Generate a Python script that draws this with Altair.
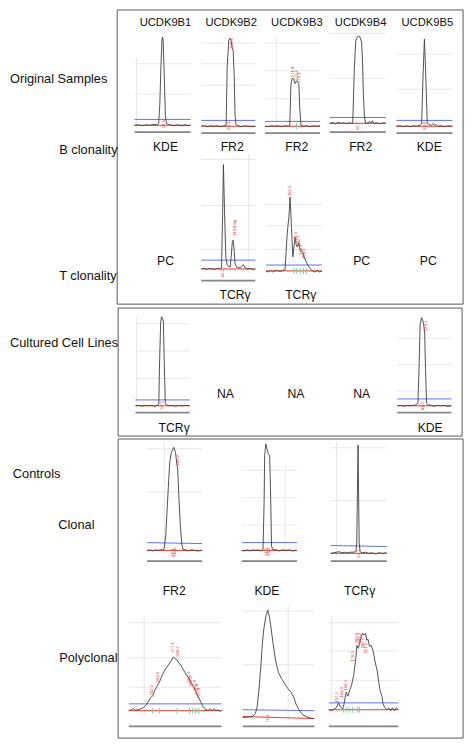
import altair as alt
import pandas as pd

# ---------------- text content ----------------
row_labels = ["Original Samples", "B clonality", "T clonality",
              "Cultured Cell Lines", "Controls", "Clonal", "Polyclonal"]
sample_names = ["UCDK9B1", "UCDK9B2", "UCDK9B3", "UCDK9B4", "UCDK9B5"]
b_targets = ["KDE", "FR2", "FR2", "FR2", "KDE"]
t_targets = ["PC", "TCRγ", "TCRγ", "PC", "PC"]
cell_line_targets = ["TCRγ", "NA", "NA", "NA", "KDE"]
polyclonal_targets = ["FR2", "KDE", "TCRγ"]

# ---------------- electropherogram traces ----------------
# (size position in % of panel width, signal in % of full scale)
trace_B1 = [(0,0),(7,0.5),(14,-0.5),(21,0.5),(28,0),(35,1),(40,0.5),(43,2),(45,22),(47,65),(49,96),(50,98),
            (51,95),(53,54),(55,11),(57,2),(60,1),(64,0.5),(69,-0.5),(76,0.5),(83,-0.5),(90,0.5),(95,-0.5),(100,0)]
trace_B2 = [(0,0),(6,0.5),(12,-0.5),(18,0.5),(24,0),(30,0.5),(36,-0.5),(42,0.5),(46,1),(48,66),(51,95),(53,97),
            (55,95),(57,87),(59,83),(61,55),(62.5,12),(64,2),(68,0.5),(74,-0.5),(80,0.5),(86,0),(92,-0.5),(100,0)]
trace_B3 = [(0,0),(6,-0.5),(12,0.5),(18,0),(24,0.5),(30,-0.5),(36,0.5),(42,0),(45,1),(47,45),(48.5,51),(50,53),
            (52,52),(54.5,47),(57.5,50),(60,48),(61.5,46),(63,20),(65.5,1),(70,0),(76,0.5),(82,-0.5),(88,0.5),
            (94,0),(100,0.5)]
trace_B4 = [(0,0),(5,1),(10,-0.5),(15,1),(20,0),(25,0.5),(30,-0.5),(35,0.5),(41,0),(44,64),(46.5,94),(49,98),
            (52,99),(54,98),(57,92),(58.5,70),(60,34),(62,7),(64,0),(68,0.5),(72,2),(74,0.5),(76,3),(78,0),
            (84,0.5),(90,-0.5),(95,0.5),(100,0)]
trace_B5 = [(0,0),(6,0.5),(12,-0.5),(18,0.5),(24,-0.5),(30,0.5),(36,0),(42,1),(45,3),(47.5,55),(50,96),
            (52.5,55),(55,3),(58,2),(62,1),(65.5,3),(68,1),(71,2),(74,0),(80,0.5),(86,-0.5),(92,0.5),(100,0)]
trace_TB2 = [(0,0),(5,0.5),(10,-0.5),(15,0.5),(20,0),(25,-0.5),(30,0.5),(35,0),(37.5,1),(39.5,50),(41,98),
             (43,55),(45.5,10),(48,4),(51,2),(53.5,2),(55.5,12),(57.5,26),(59,27),(60.5,20),(62.5,5),(65,2),
             (70,1),(74,2),(78,4),(81,1),(85,0),(90,0.5),(95,-0.5),(100,0)]
trace_TB3 = [(0,0),(4,-1),(8,0.5),(12,-1),(16,0),(20,0.5),(25,-0.5),(30,0.5),(34,1),(38,35),(41,50),(43,68),
             (45.5,40),(48,13),(50,22),(52,31),(54,24),(56,22),(58.5,26),(60.5,20),(62.5,19),(65.5,17),(68,13),
             (71,9),(75,5),(79,2),(83,0),(87,-1),(91,0.5),(95,-1),(100,0)]
trace_CL1 = [(0,0),(6,0.5),(12,-0.5),(18,0.5),(24,0),(30,0.5),(36,-0.5),(41,0.5),(43,2),(44.5,50),(46.5,92),
             (48,98),(50,96),(51.5,92),(53,50),(55,3),(57,1),(62,0),(68,0.5),(74,-0.5),(80,0.5),(86,0),
             (92,0.5),(100,0)]
trace_CL5 = [(0,0),(6,0.5),(12,-0.5),(18,0.5),(24,0),(30,0.5),(35,1),(38,3),(40,40),(42,88),(44.5,97),
             (46.5,95),(48.5,90),(50.5,80),(52,40),(54,3),(57,1),(62,0.5),(68,-0.5),(74,0.5),(80,0),(86,0.5),
             (92,-0.5),(100,0)]
trace_C1 = [(0,0),(5,0.5),(10,-0.5),(15,0.5),(20,0),(25,0.5),(30,1),(31,2),(34,15),(37,45),(41,82),(44,91),
            (48.5,96),(51.5,91),(53,85),(55.5,75),(57.5,52),(60,25),(63,6),(65,1),(70,0.5),(75,-0.5),
            (80,0.5),(86,0),(92,-0.5),(100,0)]
trace_C2 = [(0,0),(5,-0.5),(10,0.5),(15,-0.5),(20,0.5),(25,0),(30,0.5),(35,-0.5),(38.5,1),(40.5,45),(41.5,88),
            (43.5,99),(45,96),(48,90),(50.5,88),(52,60),(54,4),(56,1),(62,0.5),(68,-0.5),(74,0.5),(80,0),
            (86,0.5),(92,-0.5),(100,0)]
trace_C3 = [(0,0),(5,0.5),(10,1),(15,1.5),(20,0.5),(25,1),(30,0.5),(35,1),(40,1),(45,1.5),(46.5,10),(48.8,98),
            (50.8,10),(52.5,1.5),(56,0.5),(62,1),(68,0),(74,0.5),(80,-0.5),(86,0.5),(92,0),(100,0.5)]
trace_P1 = [(0,0),(3,1),(5,2),(7,0.5),(10,1),(13,2),(16,3),(19,6),(21,9),(23,12),(26,15),(28,20),(31,25),
            (33,28),(36,35),(39,40),(42,44),(45,48),(48,53),(50,51),(52,50),(54,47),(56,45),(59,40),(61,37),
            (63,34),(65,32),(67,28),(70,23),(72,19),(75,13),(77,10),(80,4),(83,1),(86,0.5),(88,2),(90,0),
            (92,2),(94,0),(96,1),(98,-0.5),(100,0)]
trace_P2 = [(0,-0.5),(7,0),(13.5,0.5),(17.5,3),(20,9),(23,28),(25.5,49),(27.5,69),(29.5,82),(32.5,94),
            (35,99),(37.5,92),(39,85),(42,70),(44.5,58),(47,49),(50,41),(54,36),(59.5,30),(63.5,26),(67.5,23),
            (71.5,18),(74.5,12),(78.5,7),(84,2),(90.5,0),(95,-1),(100,-1.5)]
trace_P3 = [(0,0),(4,-1),(8,1),(11,2),(14,7),(16.5,3),(20.5,1),(22,6),(25,17.5),(27.5,13.5),(30.5,20),
            (33,25),(36,35),(39,52),(40.5,64),(42,61),(43,62),(46,71),(48.5,76),(51,74),(53,76),(54.5,69),
            (56.5,70),(58.5,63),(61,64),(64,58),(66.5,48),(69.5,39),(72,27),(73.5,20),(76.5,13),(78,6),
            (80.5,2),(83.5,0),(86,2),(89,-1),(91.5,2),(94.5,-1),(97,2),(100,0)]

# peak size annotations (x %, bottom of label in % of full scale, text)
peak_labels = {
    "B1": [(51.7, -3, "94.1")],
    "B2": [(57, 85, "265.3"), (52, -4, "98.1")],
    "B3": [(51, 54, "271.8"), (58, 50, "274.4"), (61.5, 48, "276.1")],
    "B4": [(50, -8, "92.7")],
    "B5": [(51.7, -4, "96.0")],
    "TB2": [(62.5, 31, "113.8 bp"), (41, -8, "84.2")],
    "TB3": [(43, 69, "162.5"), (54, 26, "180.3"), (58.5, 23, "182.7"), (63, 15, "186.1"), (67, 11, "188.9")],
    "CL1": [(48, -4, "92.5")],
    "CL5": [(52, 82, "223.4"), (46.5, -5, "81.0")],
    "C1": [(55.5, 79, "266.2"), (47.5, -6, "90.8"), (50.5, -6, "91.6")],
    "C2": [(45.5, -5, "91.0"), (49, -5, "93.2")],
    "C3": [(50, -4, "94.7")],
    "P1": [(25, 15, "262.4"), (32, 28, "266.9"), (48, 57, "277.1"), (53, 53, "280.2"), (64.5, 28, "286.4"),
           (67.5, 24, "289.2"), (71, 20, "292.0"), (74, 16, "294.8"), (76, 12, "297.3")],
    "P2": [(35, -5, "71.4")],
    "P3": [(12.5, 7, "157.2"), (19, 12, "163.0"), (25, 19, "169.4"), (34.5, 48, "178.1"), (40.5, 66, "183.6"),
           (44.5, 66, "186.2"), (48.5, 61, "189.1"), (53, 56, "191.9")],
}
# bin markers on the baseline (x %)
bin_marks = {
    "B3": [57],
    "TB3": [50, 55, 62, 67, 72],
    "C1": [51],
    "P1": [26, 33, 52, 65.5, 69, 72, 75],
    "P3": [21, 25, 29, 34.5, 41.5, 44],
}

traces = {"B1": trace_B1, "B2": trace_B2, "B3": trace_B3, "B4": trace_B4, "B5": trace_B5,
          "TB2": trace_TB2, "TB3": trace_TB3, "CL1": trace_CL1, "CL5": trace_CL5,
          "C1": trace_C1, "C2": trace_C2, "C3": trace_C3, "P1": trace_P1, "P2": trace_P2, "P3": trace_P3}

# ---------------- layout (figure coordinates) ----------------
FIG_W, FIG_H = 473, 750
panel_layout = {
    "B1": dict(x0=131, x1=189, base=120, top=28, blue=(114, 114), red=(120, 120), gray=127, hgrid=[57, 88], vgrid=[133]),
    "B2": dict(x0=200, x1=256, base=121, top=28, blue=(115, 115), red=(121, 121), gray=128, hgrid=[36, 57, 79], vgrid=[]),
    "B3": dict(x0=266, x1=323, base=121, top=28, blue=(116, 116), red=(121, 121), gray=128, hgrid=[36, 64, 93], vgrid=[278]),
    "B4": dict(x0=333, x1=391, base=118, top=28, blue=(112, 112), red=(118, 118), gray=127, hgrid=[26, 72], vgrid=[]),
    "B5": dict(x0=402, x1=460, base=121, top=28, blue=(115, 115), red=(121, 121), gray=128, hgrid=[47, 83], vgrid=[]),
    "TB2": dict(x0=200, x1=256, base=267, top=158, blue=(258, 258), red=(267, 267), gray=279, hgrid=[155, 202, 247], vgrid=[249]),
    "TB3": dict(x0=267, x1=325, base=269, top=158, blue=(263, 263), red=(269, 269), gray=None, hgrid=[201, 223, 247], vgrid=[]),
    "CL1": dict(x0=132, x1=188, base=407, top=314, blue=(401, 401), red=(407, 407), gray=414, hgrid=[323, 351, 379], vgrid=[133]),
    "CL5": dict(x0=403, x1=459, base=407, top=314, blue=(400, 400), red=(407, 407), gray=414, hgrid=[338, 365, 392], vgrid=[]),
    "C1": dict(x0=144, x1=201, base=555, top=445, blue=(547, 548), red=(555, 555), gray=566, hgrid=[451, 495], vgrid=[162]),
    "C2": dict(x0=242, x1=299, base=555, top=445, blue=(547, 547), red=(555, 555), gray=566, hgrid=[473, 501, 529], vgrid=[287]),
    "C3": dict(x0=334, x1=392, base=558, top=445, blue=(550, 551), red=(558, 558), gray=566, hgrid=[450, 504], vgrid=[340]),
    "P1": dict(x0=125, x1=221, base=719, top=615, blue=(712, 712), red=(719, 719), gray=735, hgrid=[629, 665, 695], vgrid=[141]),
    "P2": dict(x0=243, x1=317, base=725.5, top=615, blue=(718, 719), red=(725, 727), gray=735, hgrid=[617, 672], vgrid=[290]),
    "P3": dict(x0=332, x1=404, base=718, top=615, blue=(711, 711), red=(718, 718), gray=735, hgrid=[629, 658, 688], vgrid=[335]),
}
boxes = [(113, 2, 471, 303), (114, 307, 470, 438), (114, 441, 471, 747)]

row_label_pos = [(2, 73), (53, 145), (53, 274), (2, 343), (5, 477), (52, 529), (53, 665)]
col_x = [163, 231, 299, 365, 434]


def px(p, xp):
    L = panel_layout[p]
    return L["x0"] + xp / 100.0 * (L["x1"] - L["x0"])


def py(p, h):
    L = panel_layout[p]
    return L["base"] - h / 100.0 * (L["base"] - L["top"])


# ---------------- build tables ----------------
trace_rows = []
for p, pts in traces.items():
    for i, (xp, h) in enumerate(pts):
        trace_rows.append(dict(panel=p, i=i, x=px(p, xp), y=py(p, h)))
trace_df = pd.DataFrame(trace_rows)

grid_rows, axis_rows, blue_rows, red_rows = [], [], [], []
for p, L in panel_layout.items():
    for g in L["hgrid"]:
        grid_rows.append(dict(x=L["x0"], x2=L["x1"], y=g, y2=g))
    for v in L["vgrid"]:
        grid_rows.append(dict(x=v, x2=v, y=min(L["hgrid"]) - 6, y2=L["base"] + 4))
    if L["gray"] is not None:
        axis_rows.append(dict(x=L["x0"], x2=L["x1"], y=L["gray"], y2=L["gray"]))
    blue_rows.append(dict(x=L["x0"], x2=L["x1"], y=L["blue"][0], y2=L["blue"][1]))
    red_rows.append(dict(x=L["x0"], x2=L["x1"], y=L["red"][0], y2=L["red"][1]))
grid_df = pd.DataFrame(grid_rows)
axis_df = pd.DataFrame(axis_rows)
blue_df = pd.DataFrame(blue_rows)
red_df = pd.DataFrame(red_rows)

green_rows = []
for p, xs_ in bin_marks.items():
    L = panel_layout[p]
    for xp in xs_:
        green_rows.append(dict(x=px(p, xp), y=L["red"][0] - 3, y2=L["red"][0] + 3))
green_df = pd.DataFrame(green_rows)

plab_rows = []
for p, labs in peak_labels.items():
    for xp, h, t in labs:
        plab_rows.append(dict(x=px(p, xp), y=py(p, h), t=t))
plab_df = pd.DataFrame(plab_rows)

box_df = pd.DataFrame([dict(x=a, y=b, x2=c, y2=d) for a, b, c, d in boxes])

left_df = pd.DataFrame([dict(x=x, y=y, t=t) for t, (x, y) in zip(row_labels, row_label_pos)])

center_rows = []
for t, x in zip(sample_names, col_x):
    center_rows.append(dict(x=x, y=15, t=t, s=11.2))
for t, x in zip(b_targets, [163, 232, 299, 365, 436]):
    center_rows.append(dict(x=x, y=142, t=t, s=12.2))
for t, x, y in zip(t_targets, [163, 235, 303, 366, 435], [259, 294, 294, 259, 259]):
    center_rows.append(dict(x=x, y=y, t=t, s=12.2))
for t, x, y in zip(cell_line_targets, [172, 225, 298, 366, 437], [430, 395, 395, 395, 430]):
    center_rows.append(dict(x=x, y=y, t=t, s=12.2))
for t, x in zip(polyclonal_targets, [172, 268, 364]):
    center_rows.append(dict(x=x, y=597, t=t, s=12.2))
center_df = pd.DataFrame(center_rows)

# ---------------- chart ----------------
XS = alt.Scale(domain=[0, FIG_W], nice=False, zero=False)
YS = alt.Scale(domain=[0, FIG_H], nice=False, zero=False, reverse=True)
FONT = "Liberation Sans"


def X(f="x"):
    return alt.X(f"{f}:Q", scale=XS, axis=None)


def Y(f="y"):
    return alt.Y(f"{f}:Q", scale=YS, axis=None)


box_layer = alt.Chart(box_df).mark_rect(fillOpacity=0, stroke="#5a5a5a", strokeWidth=1).encode(
    x=X(), x2="x2:Q", y=Y(), y2="y2:Q")

grid_layer = alt.Chart(grid_df).mark_rule(color="#e2e2e2", strokeWidth=0.8).encode(
    x=X(), x2="x2:Q", y=Y(), y2="y2:Q")
axis_layer = alt.Chart(axis_df).mark_rule(color="#858585", strokeWidth=1.8).encode(
    x=X(), x2="x2:Q", y=Y(), y2="y2:Q")
blue_layer = alt.Chart(blue_df).mark_rule(color="#6272f4", strokeWidth=1).encode(
    x=X(), x2="x2:Q", y=Y(), y2="y2:Q")
red_layer = alt.Chart(red_df).mark_rule(color="#ea3a30", strokeWidth=1).encode(
    x=X(), x2="x2:Q", y=Y(), y2="y2:Q")

trace_layer = alt.Chart(trace_df).mark_line(color="#404040", strokeWidth=0.9).encode(
    x=X(), y=Y(), detail="panel:N", order="i:Q")

green_layer = alt.Chart(green_df).mark_rule(color="#6fd69a", strokeWidth=1).encode(
    x=X(), y=Y(), y2="y2:Q")

plab_layer = alt.Chart(plab_df).mark_text(angle=270, align="left", baseline="middle", fontSize=4.2,
                                          color="#e8302a", font=FONT).encode(
    x=X(), y=Y(), text="t:N")

left_layer = alt.Chart(left_df).mark_text(align="left", baseline="middle", fontSize=12.8, font=FONT,
                                          color="#111").encode(x=X(), y=Y(), text="t:N")
center_layer = alt.Chart(center_df).mark_text(align="center", baseline="middle", font=FONT,
                                              color="#111").encode(
    x=X(), y=Y(), text="t:N", size=alt.Size("s:Q", scale=None))

# page is 473 x 750 with an 8px margin on every side -> 457 x 734 available
chart = alt.layer(
    box_layer, grid_layer, axis_layer, blue_layer, red_layer, trace_layer, green_layer,
    plab_layer, left_layer, center_layer
).properties(
    width=457, height=733,
    autosize=alt.AutoSizeParams(type="none"),
    padding=0,
).configure_view(stroke=None)

chart.save("out.html", embed_options={"renderer": "svg", "actions": False})
